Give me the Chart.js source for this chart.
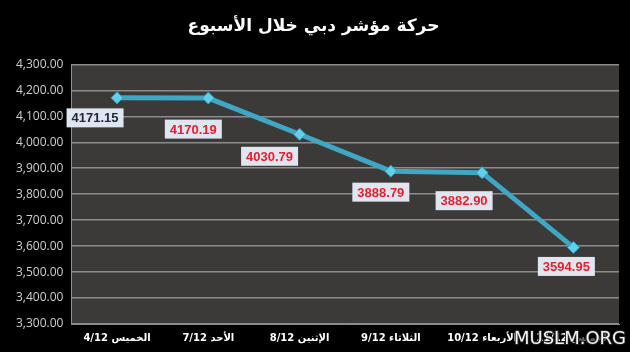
<!DOCTYPE html>
<html>
<head>
<meta charset="utf-8">
<script src="https://cdn.jsdelivr.net/npm/chart.js@4.4.0/dist/chart.umd.min.js"></script>
<style>
  html, body { margin: 0; padding: 0; background: #000; }
  #wrap { width: 630px; height: 352px; }
</style>
</head>
<body>
<div id="wrap"><canvas id="chart"></canvas></div>
<script>
// Dubai index over the week
const chartTitle = 'حركة مؤشر دبي خلال الأسبوع';
const days = ['4/12 الخميس', '7/12 الأحد', '8/12 الإثنين', '9/12 الثلاثاء', '10/12 الأربعاء', '11/12 الخميس'];
const indexValues = [4171.15, 4170.19, 4030.79, 3888.79, 3882.90, 3594.95];
const labelColors = ['#1c2640', '#e8202c', '#e8202c', '#e8202c', '#e8202c', '#e8202c'];
// label box offset from its point, px
const labelShift = [[-22, 20], [-15, 31], [-30, 22], [-10, 21], [-18, 28], [-7, 19]];

const plotBackground = {
  id: 'plotBackground',
  beforeDraw(chart) {
    const { ctx, chartArea: a } = chart;
    ctx.save();
    ctx.fillStyle = '#3b3a38';
    ctx.fillRect(a.left, a.top, a.right - a.left, a.bottom - a.top);
    ctx.restore();
  },
};

const valueBoxes = {
  id: 'valueBoxes',
  afterDatasetsDraw(chart) {
    const { ctx } = chart;
    const meta = chart.getDatasetMeta(0);
    ctx.save();
    ctx.font = 'bold 13px "Liberation Sans", Arial, sans-serif';
    ctx.textAlign = 'center';
    ctx.textBaseline = 'middle';
    meta.data.forEach((pt, i) => {
      const txt = indexValues[i].toFixed(2);
      const x = pt.x + labelShift[i][0];
      const y = pt.y + labelShift[i][1];
      const w = ctx.measureText(txt).width + 10;
      const h = 19;
      ctx.fillStyle = '#dfe6f0';
      ctx.fillRect(x - w / 2, y - h / 2, w, h);
      ctx.fillStyle = labelColors[i];
      ctx.fillText(txt, x, y + 1);
    });
    ctx.restore();
  },
};

const watermark = {
  id: 'watermark',
  afterDraw(chart) {
    const { ctx } = chart;
    ctx.save();
    ctx.fillStyle = 'rgba(0,0,0,0.6)';
    ctx.fillRect(574, 328, 56, 22);
    ctx.font = '18px "DejaVu Sans", sans-serif';
    ctx.textAlign = 'right';
    ctx.textBaseline = 'middle';
    ctx.lineWidth = 2;
    ctx.strokeStyle = '#222';
    ctx.strokeText('MUSLM.ORG', 626, 339);
    ctx.fillStyle = '#f4f4f4';
    ctx.fillText('MUSLM.ORG', 626, 339);
    ctx.restore();
  },
};

new Chart(document.getElementById('chart'), {
  type: 'line',
  data: {
    labels: days,
    datasets: [{
      data: indexValues,
      borderColor: '#3fa6c4',
      borderWidth: 5,
      tension: 0,
      pointStyle: 'rectRot',
      pointRadius: 6,
      pointBackgroundColor: '#5fd0ea',
      pointBorderColor: '#3a9ab8',
      pointBorderWidth: 1,
    }],
  },
  options: {
    responsive: true,
    maintainAspectRatio: false,
    animation: false,
    layout: { padding: { left: 8, right: 11, top: 0, bottom: 0 } },
    plugins: {
      legend: { display: false },
      tooltip: { enabled: false },
      title: {
        display: true,
        text: chartTitle,
        color: '#ffffff',
        font: { family: '"DejaVu Sans", sans-serif', size: 17, weight: 'bold' },
        padding: { top: 16, bottom: 28 },
      },
    },
    scales: {
      x: {
        offset: true,
        grid: { display: false, drawTicks: false },
        border: { color: '#8c8c8c' },
        ticks: {
          color: '#ffffff',
          padding: 9,
          maxRotation: 0,
          font: { family: '"DejaVu Sans", sans-serif', size: 10, weight: 'bold', lineHeight: 1 },
        },
      },
      y: {
        min: 3300,
        max: 4300,
        ticks: {
          stepSize: 100,
          color: '#cfcfcf',
          padding: 8,
          font: { family: '"Open Sans", sans-serif', size: 12 },
          callback: (v) => v.toLocaleString('en-US', { minimumFractionDigits: 2, maximumFractionDigits: 2 }),
        },
        grid: { color: '#8c8c8c', lineWidth: 1.5, drawTicks: false },
        border: { color: '#8c8c8c' },
      },
    },
  },
  plugins: [plotBackground, valueBoxes, watermark],
});
</script>
</body>
</html>
